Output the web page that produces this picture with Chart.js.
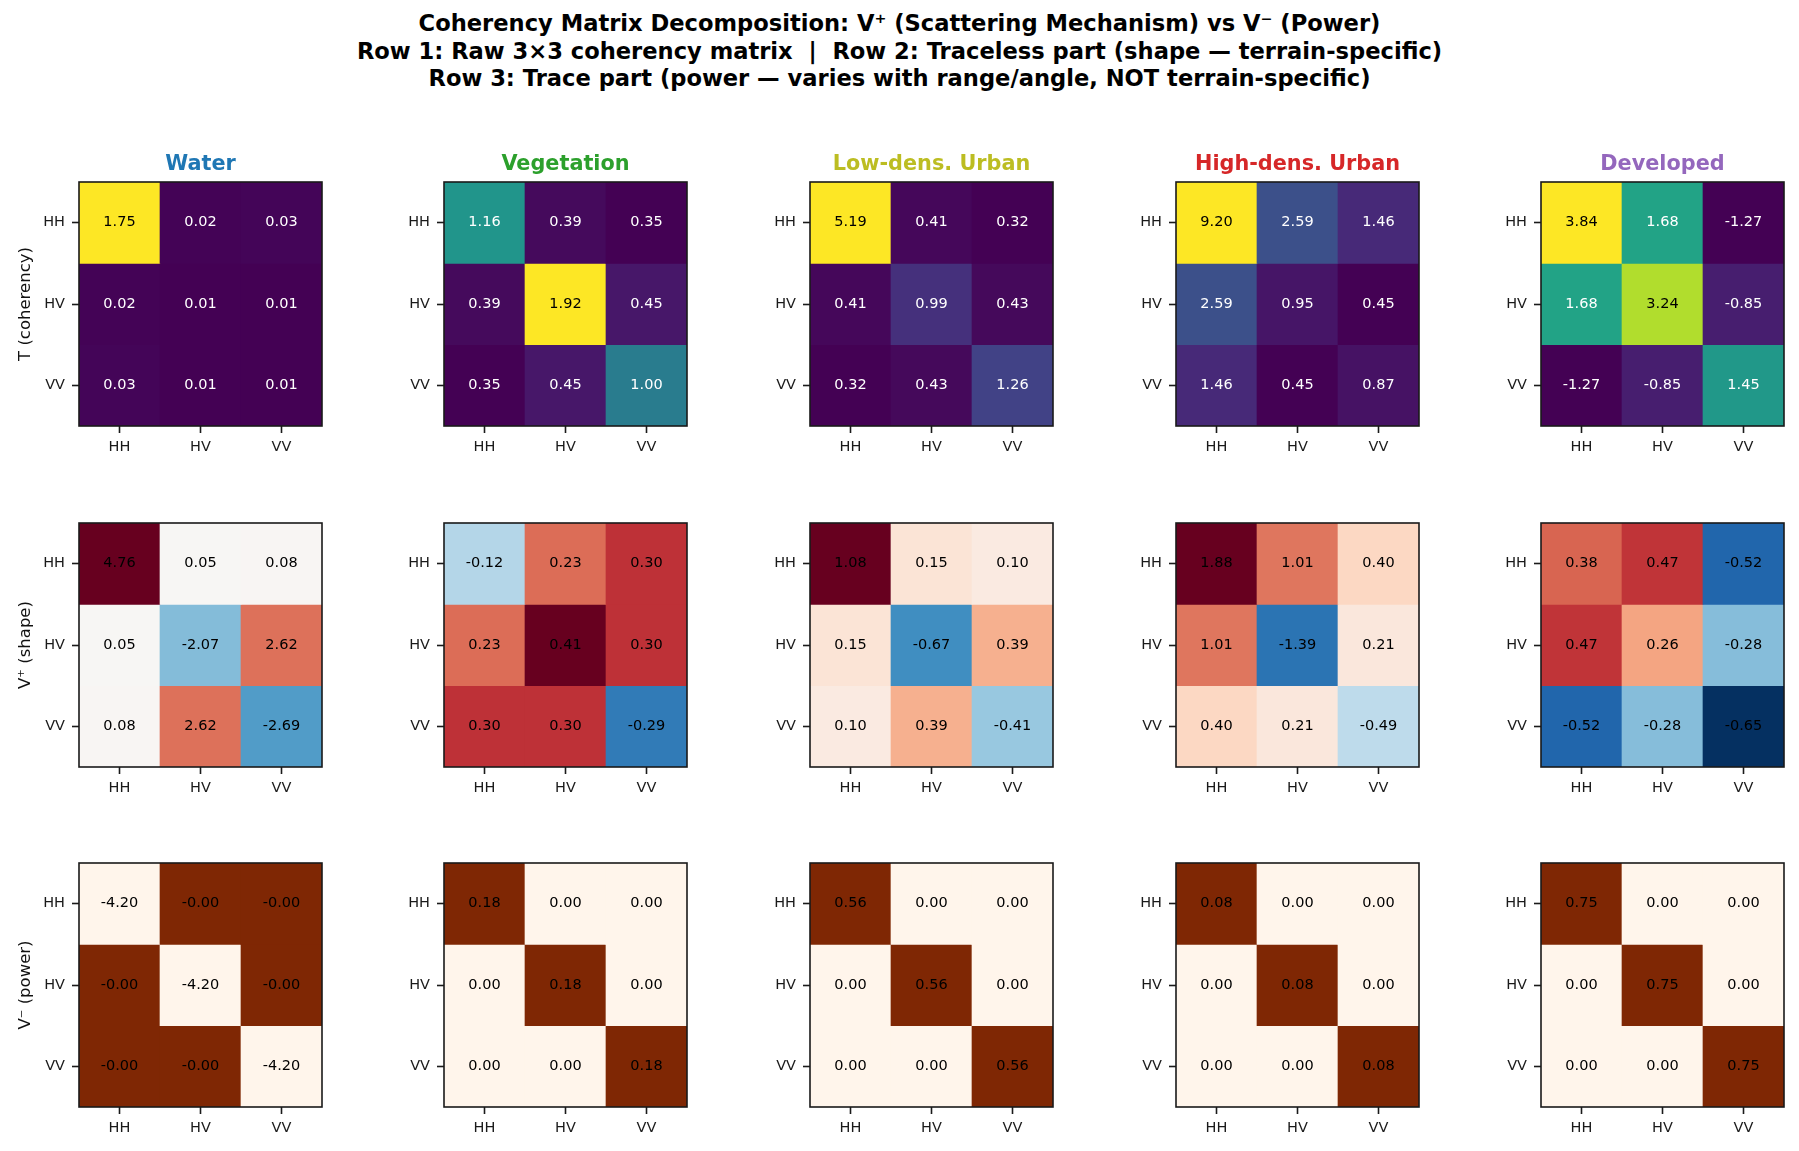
<!DOCTYPE html>
<html><head><meta charset="utf-8">
<script src="https://cdn.jsdelivr.net/npm/chart.js@4.4.1/dist/chart.umd.min.js"></script>
<style>
html,body{margin:0;padding:0;background:#fff;width:1799px;height:1151px;overflow:hidden;position:relative;}
#sup{position:absolute;left:0;top:10px;width:1799px;text-align:center;font-family:"DejaVu Sans";font-weight:bold;font-size:22.6px;line-height:27.5px;color:#000;white-space:pre;}
canvas{position:absolute;}
</style></head><body>
<div id="sup"></div>
<script>
// ---------- DATA ----------
const pols = ['HH', 'HV', 'VV'];
const terrains = ['Water', 'Vegetation', 'Low-dens. Urban', 'High-dens. Urban', 'Developed'];
const rowLabels = ['T (coherency)', 'V\u207A (shape)', 'V\u207B (power)'];
const supTitleLines = [
  'Coherency Matrix Decomposition: V\u207A (Scattering Mechanism) vs V\u207B (Power)',
  'Row 1: Raw 3\u00D73 coherency matrix  |  Row 2: Traceless part (shape \u2014 terrain-specific)',
  'Row 3: Trace part (power \u2014 varies with range/angle, NOT terrain-specific)'
];

// Row 1: raw coherency matrix T
const T_water = [[1.75, 0.02, 0.03], [0.02, 0.01, 0.01], [0.03, 0.01, 0.01]];
const T_veg   = [[1.16, 0.39, 0.35], [0.39, 1.92, 0.45], [0.35, 0.45, 1.00]];
const T_low   = [[5.19, 0.41, 0.32], [0.41, 0.99, 0.43], [0.32, 0.43, 1.26]];
const T_high  = [[9.20, 2.59, 1.46], [2.59, 0.95, 0.45], [1.46, 0.45, 0.87]];
const T_dev   = [[3.84, 1.68, -1.27], [1.68, 3.24, -0.85], [-1.27, -0.85, 1.45]];

// Row 2: traceless part V+
const Vp_water = [[4.76, 0.05, 0.08], [0.05, -2.07, 2.62], [0.08, 2.62, -2.69]];
const Vp_veg   = [[-0.12, 0.23, 0.30], [0.23, 0.41, 0.30], [0.30, 0.30, -0.29]];
const Vp_low   = [[1.08, 0.15, 0.10], [0.15, -0.67, 0.39], [0.10, 0.39, -0.41]];
const Vp_high  = [[1.88, 1.01, 0.40], [1.01, -1.39, 0.21], [0.40, 0.21, -0.49]];
const Vp_dev   = [[0.38, 0.47, -0.52], [0.47, 0.26, -0.28], [-0.52, -0.28, -0.65]];

// Row 3: trace part V-
const Vm_water = [[-4.20, -0.001, -0.001], [-0.001, -4.20, -0.001], [-0.001, -0.001, -4.20]];
const Vm_veg   = [[0.18, 0.00, 0.00], [0.00, 0.18, 0.00], [0.00, 0.00, 0.18]];
const Vm_low   = [[0.56, 0.00, 0.00], [0.00, 0.56, 0.00], [0.00, 0.00, 0.56]];
const Vm_high  = [[0.08, 0.00, 0.00], [0.00, 0.08, 0.00], [0.00, 0.00, 0.08]];
const Vm_dev   = [[0.75, 0.00, 0.00], [0.00, 0.75, 0.00], [0.00, 0.00, 0.75]];

const matrices = [
  [T_water, T_veg, T_low, T_high, T_dev],
  [Vp_water, Vp_veg, Vp_low, Vp_high, Vp_dev],
  [Vm_water, Vm_veg, Vm_low, Vm_high, Vm_dev]
];

// ---------- STYLE ----------
const titleColors = ['#1f77b4', '#2ca02c', '#bcbd22', '#d62728', '#9467bd'];
const colLeft = [79, 444, 810, 1176, 1541];
const rowTop = [182, 523, 863];
const AX_W = 243, AX_H = 244, LEFT_W = 79, TOP_H = 50, BOT_H = 42, RIGHT_P = 12;
const FONT = 'DejaVu Sans';

const VIRIDIS = ['#440154','#482475','#414487','#355f8d','#2a788e','#21918c','#22a884','#44bf70','#7ad151','#bddf26','#fde725'];
const RDBU_R = ['#053061','#2166ac','#4393c3','#92c5de','#d1e5f0','#f7f7f7','#fddbc7','#f4a582','#d6604d','#b2182b','#67001f'];
const ORANGES = ['#fff5eb','#fee6ce','#fdd0a2','#fdae6b','#fd8d3c','#f16913','#d94801','#a63603','#7f2704'];

function hex2rgb(h) { return [1,3,5].map(i => parseInt(h.substr(i,2),16)); }
function sample(stops, t) {
  t = Math.max(0, Math.min(1, t));
  const n = stops.length - 1, p = t * n, i = Math.min(Math.floor(p), n - 1), f = p - i;
  const a = hex2rgb(stops[i]), b = hex2rgb(stops[i+1]);
  const c = a.map((v,k) => Math.round(v + (b[k]-v)*f));
  return 'rgb(' + c.join(',') + ')';
}

Chart.defaults.font.family = FONT;

document.getElementById('sup').textContent = supTitleLines.join('\n');

const framePlugin = {
  id: 'frame',
  afterDatasetsDraw(chart) {
    const {ctx, chartArea: a} = chart;
    const meta = chart.$meta;
    ctx.save();
    ctx.font = '14.5px "' + FONT + '"';
    ctx.textAlign = 'center';
    ctx.textBaseline = 'middle';
    const xs = chart.scales.x, ys = chart.scales.y;
    meta.M.forEach((r, i) => r.forEach((v, j) => {
      ctx.fillStyle = meta.textColor(v);
      ctx.fillText(v.toFixed(2), xs.getPixelForValue(j), ys.getPixelForValue(i));
    }));
    ctx.strokeStyle = '#1a1a1a';
    ctx.lineWidth = 1.6;
    ctx.strokeRect(a.left, a.top, a.right - a.left, a.bottom - a.top);
    if (meta.title) {
      ctx.font = 'bold 20.8px "' + FONT + '"';
      ctx.fillStyle = meta.titleColor;
      ctx.textBaseline = 'alphabetic';
      ctx.fillText(meta.title, (a.left + a.right) / 2, a.top - 12);
    }
    ctx.restore();
  }
};

function makeChart(row, col) {
  const M = matrices[row][col];
  const flat = M.flat();
  let vmin = Math.min(...flat), vmax = Math.max(...flat), cmap;
  if (row === 0) cmap = VIRIDIS;
  else if (row === 1) { const a = Math.max(...flat.map(Math.abs)); vmin = -a; vmax = a; cmap = RDBU_R; }
  else cmap = ORANGES;
  const norm = v => (v - vmin) / (vmax - vmin);
  const textColor = v => (row === 0 && norm(v) <= 0.7) ? '#ffffff' : '#000000';

  const W = LEFT_W + AX_W + RIGHT_P, H = TOP_H + AX_H + BOT_H;
  const cv = document.createElement('canvas');
  cv.width = W; cv.height = H;
  cv.style.width = W + 'px'; cv.style.height = H + 'px';
  cv.style.left = (colLeft[col] - LEFT_W) + 'px';
  cv.style.top = (rowTop[row] - TOP_H) + 'px';
  document.body.appendChild(cv);

  const datasets = M.map((r, i) => ({
    data: r.map(() => [i - 0.5, i + 0.5]),
    backgroundColor: r.map(v => sample(cmap, norm(v))),
    borderWidth: 0,
    grouped: false,
    barPercentage: 1,
    categoryPercentage: 1
  }));

  const tickFont = {family: FONT, size: 14.5};
  const gridOpts = {display: true, offset: false, drawOnChartArea: false, drawTicks: true, tickLength: 7, tickWidth: 1.6, tickColor: '#1a1a1a'};
  const meta = {M, textColor, title: row === 0 ? terrains[col] : null, titleColor: titleColors[col]};

  return new Chart(cv, {
    type: 'bar',
    data: {labels: pols, datasets},
    options: {
      responsive: false, animation: false, devicePixelRatio: 1,
      layout: {padding: {left: 0, right: RIGHT_P, top: TOP_H, bottom: 0}},
      plugins: {legend: {display: false}, tooltip: {enabled: false}, title: {display: false}},
      scales: {
        x: {
          type: 'category', offset: true,
          grid: gridOpts, border: {display: false},
          ticks: {font: tickFont, color: '#1a1a1a', padding: 6, maxRotation: 0, autoSkip: false},
          afterFit: s => { s.height = BOT_H; }
        },
        y: {
          type: 'linear', min: -0.5, max: 2.5, reverse: true,
          afterBuildTicks: s => { s.ticks = [0, 1, 2].map(v => ({value: v})); },
          grid: gridOpts, border: {display: false},
          ticks: {font: tickFont, color: '#1a1a1a', padding: 7, callback: v => pols[v]},
          title: {display: col === 0, text: rowLabels[row], color: '#111111',
                  font: {family: FONT, size: 16.5}, padding: {top: 15.5, bottom: 0}},
          afterFit: s => { s.width = LEFT_W; }
        }
      }
    },
    plugins: [{id: 'metaInit', beforeInit(c) { c.$meta = meta; }}, framePlugin]
  });
}

for (let r = 0; r < 3; r++) for (let c = 0; c < 5; c++) makeChart(r, c);
</script>
</body></html>
